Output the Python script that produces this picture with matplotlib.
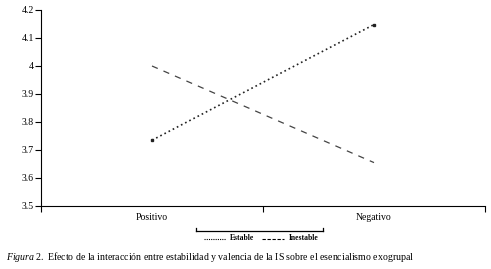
import matplotlib
matplotlib.use("Agg")
import matplotlib.pyplot as plt
from matplotlib.lines import Line2D

plt.rcParams['font.family'] = ['Liberation Serif', 'DejaVu Serif']
plt.rcParams['mathtext.fontset'] = 'custom'
plt.rcParams['mathtext.rm'] = 'Liberation Serif'
plt.rcParams['mathtext.it'] = 'Liberation Serif:italic'

# datos
categorias = ['Positivo', 'Negativo']
estable = [3.735, 4.148]
inestable = [4.0, 3.655]
yticks = [3.5, 3.6, 3.7, 3.8, 3.9, 4.0, 4.1, 4.2]
yticklabels = ['3.5', '3.6', '3.7', '3.8', '3.9', '4', '4.1', '4.2']

fig = plt.figure(figsize=(4.91, 2.69), dpi=100)
W, H = 491, 269
ax = fig.add_axes([41 / W, 1 - 206 / H, (485 - 41) / W, (206 - 10) / H])

xs = [0, 1]
ax.plot(xs, estable, linestyle=(0, (1, 1.8)), color='#222222', linewidth=1.2,
        marker='s', markersize=2, markevery=[0, 1])
ax.plot(xs, inestable, linestyle=(0, (5, 5)), color='#444444', linewidth=0.9)

ax.set_xlim(-0.5, 1.5)
ax.set_ylim(3.5, 4.2)
ax.set_yticks(yticks)
ax.set_yticklabels(yticklabels)
ax.set_xticks([-0.5, 0.5, 1.5])
ax.set_xticklabels([])
ax.set_xticks(xs, minor=True)
ax.set_xticklabels(categorias, minor=True)
ax.tick_params(axis='x', which='minor', length=0, pad=5, labelsize=7)
ax.tick_params(axis='x', which='major', length=4, width=0.8, direction='out')
ax.tick_params(axis='y', length=4, width=0.8, labelsize=7, pad=1)
ax.spines['top'].set_visible(False)
ax.spines['right'].set_visible(False)

# barra de la leyenda
fig.add_artist(Line2D([196 / W, 323 / W], [1 - 231 / H, 1 - 231 / H], color='black', linewidth=0.9))
for xp in [196, 323]:
    fig.add_artist(Line2D([xp / W, xp / W], [1 - 231 / H, 1 - 228 / H], color='black', linewidth=0.9))

ly = 1 - 238.5 / H
fig.add_artist(Line2D([204 / W, 226 / W], [ly, ly], color='black', linewidth=0.8, linestyle=(0, (1, 1))))
fig.text(230 / W, ly, 'Estable', fontsize=5.5, fontweight='bold', va='center', ha='left')
fig.add_artist(Line2D([262 / W, 284 / W], [ly, ly], color='black', linewidth=0.8, linestyle=(0, (3, 1.5))))
fig.text(289 / W, ly, 'Inestable', fontsize=5.5, fontweight='bold', va='center', ha='left')

fig.text(6 / W, 1 - 257 / H,
         r'$\mathit{Figura\ 2.}$' + ' Efecto de la interacción entre estabilidad y valencia de la IS sobre el esencialismo exogrupal',
         fontsize=7.15, va='center', ha='left')

fig.savefig('out.png', dpi=100)
